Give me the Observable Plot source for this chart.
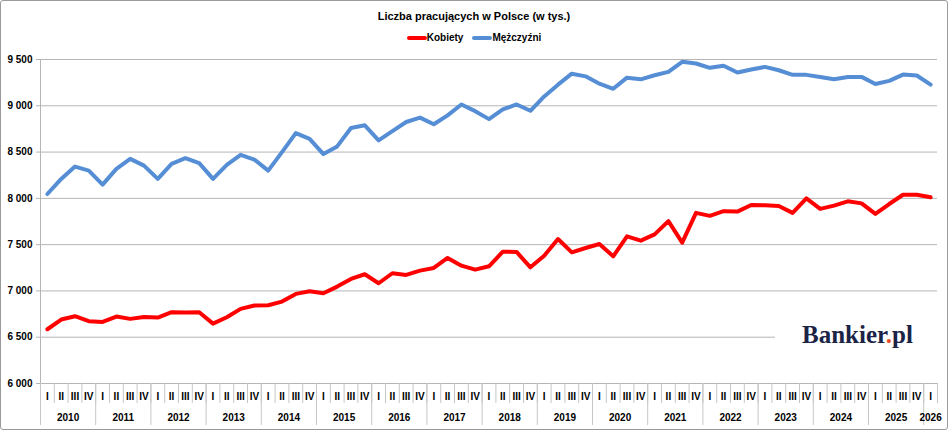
<!DOCTYPE html>
<html>
<head>
<meta charset="utf-8">
<script src="https://cdn.jsdelivr.net/npm/d3@7"></script>
<script src="https://cdn.jsdelivr.net/npm/@observablehq/plot@0.6"></script>
<style>
  html, body { margin: 0; padding: 0; background: white; }
  #wrap { position: relative; width: 948px; height: 430px; overflow: hidden; background: white; font-family: 'Liberation Sans', Arial, sans-serif; }
  #frame { position: absolute; left: 0; top: 0; width: 946px; height: 428px; border: 1px solid #9a9a9a; border-radius: 3px; pointer-events: none; }
  #title { position: absolute; left: 0; top: 9px; width: 948px; text-align: center; font-weight: bold; font-size: 11px; line-height: 14px; color: #000; }
  #legend { position: absolute; left: 0; top: 32px; width: 948px; display: flex; justify-content: center; align-items: center; font-weight: bold; font-size: 10px; line-height: 12px; color: #000; }
  .item { display: flex; align-items: center; }
  .item + .item { margin-left: 9px; }
  .sw { width: 20px; height: 4px; border-radius: 2px; }
  #logo { position: absolute; left: 775px; top: 319px; width: 162px; height: 32px; background: white; font-family: 'Liberation Serif', 'DejaVu Serif', serif; font-weight: bold; font-size: 25px; line-height: 32px; color: #1b2446; padding-left: 27px; box-sizing: border-box; }
  #logo span { color: #e8511f; }
</style>
</head>
<body>
<div id="wrap">
  <div id="chart"></div>
  <div id="title">Liczba pracujących w Polsce (w tys.)</div>
  <div id="legend"></div>
  <div id="logo">Bankier<span>.</span>pl</div>
  <div id="frame"></div>
</div>
<script>
const quarters = ["I", "II", "III", "IV"];
const years = [2010, 2011, 2012, 2013, 2014, 2015, 2016, 2017, 2018, 2019, 2020, 2021, 2022, 2023, 2024, 2025, 2026];
const yTicks = [6000, 6500, 7000, 7500, 8000, 8500, 9000, 9500];

const kobiety = [
  6586, 6691, 6727, 6673,
  6665, 6723, 6698, 6719,
  6712, 6770, 6766, 6770,
  6647, 6716, 6806, 6842,
  6845, 6885, 6968, 6996,
  6975, 7047, 7130, 7180,
  7083, 7191, 7173, 7219,
  7248, 7356, 7273, 7230,
  7266, 7424, 7421, 7255,
  7381, 7561, 7417, 7464,
  7507, 7374, 7590, 7543,
  7611, 7754, 7521, 7843,
  7811, 7861, 7857, 7929,
  7925, 7918, 7843, 8000,
  7886, 7921, 7968, 7946,
  7832, 7939, 8039, 8039,
  8011
];
const mezczyzni = [
  8047, 8210, 8343, 8300,
  8148, 8318, 8427, 8354,
  8210, 8372, 8434, 8380,
  8210, 8361, 8470, 8419,
  8300, 8500, 8705, 8643,
  8478, 8561, 8760, 8789,
  8627, 8727, 8825, 8872,
  8800, 8897, 9014, 8942,
  8856, 8961, 9014, 8946,
  9101, 9228, 9347, 9318,
  9239, 9184, 9304, 9286,
  9330, 9366, 9475, 9457,
  9410, 9432, 9359, 9392,
  9420, 9384, 9334, 9334,
  9312, 9287, 9312, 9312,
  9236, 9269, 9337, 9327,
  9229
];

const series = [
  {name: "Kobiety", values: kobiety, color: "#ff0000"},
  {name: "Mężczyźni", values: mezczyzni, color: "#558ed5"}
];

const n = kobiety.length;
const rows = [];
for (const s of series) {
  s.values.forEach((v, i) => rows.push({i, value: v, name: s.name}));
}

const idx = d3.range(n);
const centers = idx.map(i => i + 0.5);
const boundaries = d3.range(n + 1);
const yearStarts = years.map((y, k) => k * 4).filter(v => v < n);
const yearCenters = years.map((y, k) => {
  const start = k * 4, end = Math.min(n, start + 4);
  return (start + end) / 2;
});

const grid = "#b5b5b5";
const sep = "#c6c6c6";
const fmt = d => d3.format(",")(d).replace(/,/g, " ");

const chart = Plot.plot({
  width: 948,
  height: 430,
  marginLeft: 40,
  marginRight: 11,
  marginTop: 59,
  marginBottom: 47,
  style: "font-family: 'Liberation Sans', Arial, sans-serif; font-size: 10px; font-weight: bold; color: black; background: white; overflow: visible;",
  x: {type: "linear", domain: [0, n], axis: null},
  y: {domain: [6000, 9500], axis: null},
  color: {domain: series.map(s => s.name), range: series.map(s => s.color)},
  marks: [
    Plot.ruleY(yTicks, {stroke: grid, strokeWidth: 1}),
    Plot.axisY(yTicks, {tickSize: 4, tickPadding: 4, tickFormat: fmt, stroke: grid, fill: "black", fontWeight: "bold", fontSize: 10, label: null}),
    Plot.ruleX([0], {stroke: grid, strokeWidth: 1}),
    Plot.axisX(boundaries, {tickSize: 20, tickFormat: () => "", stroke: sep, label: null}),
    Plot.axisX(yearStarts, {tickSize: 42, tickFormat: () => "", stroke: sep, label: null}),
    Plot.axisX(centers, {tickSize: 0, tickPadding: 9, tickFormat: v => quarters[Math.floor(v) % 4], fill: "black", fontWeight: "bold", fontSize: 10, label: null}),
    Plot.axisX(yearCenters, {tickSize: 0, tickPadding: 30, tickFormat: (v, k) => String(years[k]), fill: "black", fontWeight: "bold", fontSize: 10, label: null}),
    Plot.line(rows, {x: d => d.i + 0.5, y: "value", z: "name", stroke: "name", strokeWidth: 4, strokeLinejoin: "round", strokeLinecap: "round"})
  ]
});
document.getElementById("chart").appendChild(chart);

const legend = document.getElementById("legend");
for (const s of series) {
  const item = document.createElement("div");
  item.className = "item";
  const sw = document.createElement("div");
  sw.className = "sw";
  sw.style.background = s.color;
  const label = document.createElement("span");
  label.textContent = s.name;
  item.appendChild(sw);
  item.appendChild(label);
  legend.appendChild(item);
}
</script>
</body>
</html>
